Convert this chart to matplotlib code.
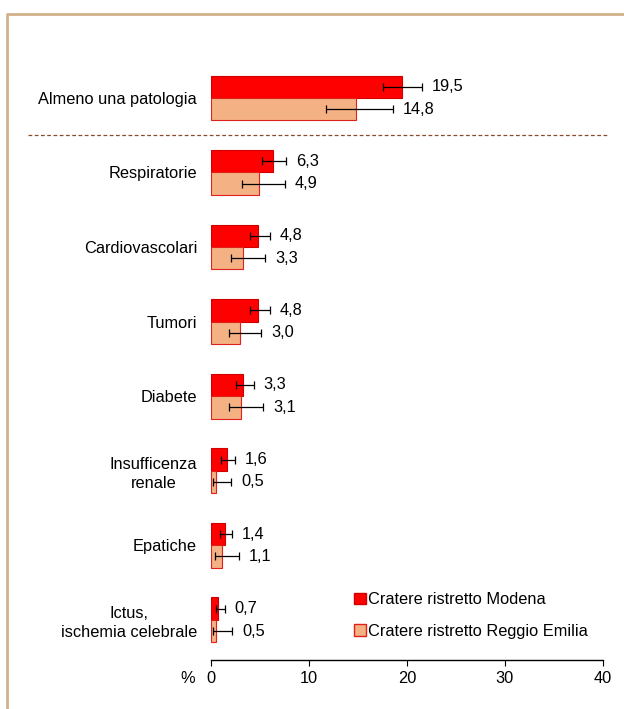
import matplotlib.pyplot as plt
import numpy as np
from matplotlib.patches import Patch
from matplotlib.lines import Line2D

plt.rcParams['font.family'] = ['Liberation Sans', 'DejaVu Sans']

categories = ["Almeno una patologia", "Respiratorie", "Cardiovascolari", "Tumori",
              "Diabete", "Insufficenza\nrenale", "Epatiche", "Ictus,\nischemia celebrale"]
modena = [19.5, 6.3, 4.8, 4.8, 3.3, 1.6, 1.4, 0.7]
modena_lo = [17.6, 5.2, 4.0, 4.0, 2.6, 1.05, 0.95, 0.5]
modena_hi = [21.5, 7.7, 6.05, 6.05, 4.4, 2.5, 2.2, 1.45]
reggio = [14.8, 4.9, 3.3, 3.0, 3.1, 0.5, 1.1, 0.5]
reggio_lo = [11.7, 3.2, 2.05, 1.85, 1.85, 0.2, 0.4, 0.2]
reggio_hi = [18.6, 7.6, 5.55, 5.15, 5.35, 2.1, 2.9, 2.2]
series_names = ["Cratere ristretto Modena", "Cratere ristretto Reggio Emilia"]
xticks = [0, 10, 20, 30, 40]

fs = 11.8
fig = plt.figure(figsize=(6.24, 7.09), dpi=100)
ax = fig.add_axes([0.338, 0.069, 0.628, 0.856])

n = len(categories)
y = np.arange(n)[::-1].astype(float)
h = 0.3

mod = np.array(modena)
reg = np.array(reggio)
mod_err = [mod - np.array(modena_lo), np.array(modena_hi) - mod]
reg_err = [reg - np.array(reggio_lo), np.array(reggio_hi) - reg]

ax.barh(y + h / 2, mod, height=h, color='#FF0000', edgecolor='#D00000', linewidth=0.8)
ax.barh(y - h / 2, reg, height=h, color='#F4B183', edgecolor='#E0201A', linewidth=0.8)
ax.errorbar(mod, y + h / 2, xerr=mod_err, fmt='none', ecolor='black', elinewidth=0.9,
            capsize=3, capthick=0.9)
ax.errorbar(reg, y - h / 2, xerr=reg_err, fmt='none', ecolor='black', elinewidth=0.9,
            capsize=3, capthick=0.9)

for vals, his, yy in [(modena, modena_hi, y + h / 2), (reggio, reggio_hi, y - h / 2)]:
    for v, hi, yi in zip(vals, his, yy):
        ax.annotate(f"{v:.1f}".replace('.', ','), (hi, yi), xytext=(7, 0),
                    textcoords='offset points', ha='left', va='center', fontsize=fs)

ax.set_xlim(0, 40)
ax.set_ylim(-0.54, 7.6)
ax.set_xticks(xticks)
ax.set_xticklabels([str(t) for t in xticks], fontsize=fs)
ax.set_yticks(y)
ax.set_yticklabels(categories, fontsize=fs)
for lab in ax.get_yticklabels():
    lab.set_multialignment('center')
    lab.set_linespacing(1.3)
ax.tick_params(axis='y', length=0, pad=10)
ax.tick_params(axis='x', length=4, direction='out', pad=4)
for s in ['top', 'right', 'left']:
    ax.spines[s].set_visible(False)
ax.spines['bottom'].set_linewidth(1)

# % label to the left of the 0 tick label
ax.annotate('%', (0, 0), xycoords='axes fraction', xytext=(-11.5, -13),
            textcoords='offset points', ha='right', va='center', fontsize=fs)

# dashed separator between "Almeno" and the others
fig.add_artist(Line2D([28 / 624, 608 / 624], [1 - 135 / 709, 1 - 135 / 709],
                      color='#8B4A2B', linewidth=0.9, linestyle=(0, (3, 2))))

# frame border (top and left)
fig.add_artist(Line2D([7 / 624, 7 / 624, 1.0], [0.0, 1 - 14 / 709, 1 - 14 / 709],
                      color='#D2B28C', linewidth=2))

handles = [Patch(facecolor='#FF0000', edgecolor='#D00000'),
           Patch(facecolor='#F4B183', edgecolor='#E0201A')]
fig.legend(handles, series_names, loc='upper left', bbox_to_anchor=(346 / 624, 1 - 584 / 709),
           frameon=False, fontsize=fs, handlelength=0.7, handleheight=0.7,
           handletextpad=0.15, labelspacing=1.0, borderpad=0)

plt.savefig('out.png', dpi=100)
plt.close()
